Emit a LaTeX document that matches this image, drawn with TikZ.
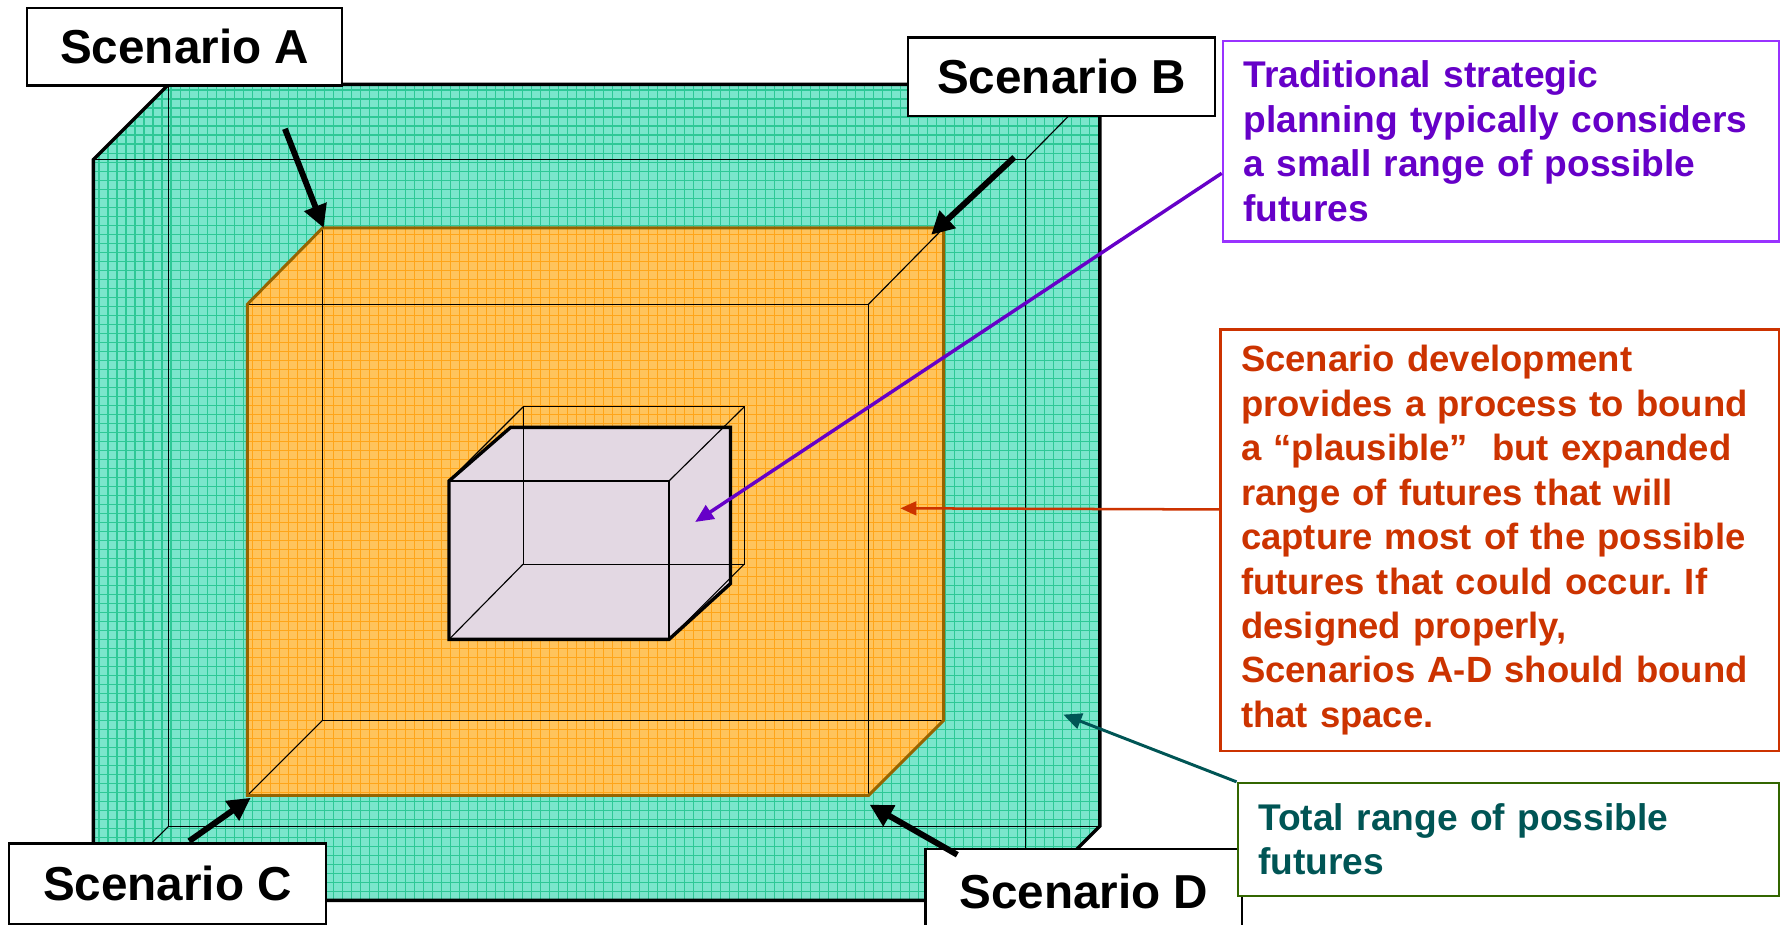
\documentclass[tikz,border=0pt]{standalone}
\usepackage{fontspec}
\setmainfont{Liberation Sans}
\usetikzlibrary{arrows.meta}
\frenchspacing
\definecolor{mint}{RGB}{122,230,204}
\definecolor{mintgrid}{RGB}{45,200,150}
\definecolor{orng}{RGB}{255,196,92}
\definecolor{orngrid}{RGB}{255,165,25}
\definecolor{lav}{RGB}{227,216,227}
\definecolor{purptext}{RGB}{102,0,200}
\definecolor{purpline}{RGB}{153,51,255}
\definecolor{redtext}{RGB}{204,51,0}
\definecolor{tealtext}{RGB}{0,85,85}
\definecolor{olivebox}{RGB}{51,102,0}
\definecolor{brownedge}{RGB}{150,100,0}
\tikzset{
  scen/.style={draw=black, line width=1pt, fill=white, minimum width=#1,
    font=\fontsize{20.9pt}{25pt}\selectfont\bfseries, inner sep=0pt},
  infobox/.style={draw, line width=1pt, fill=white, anchor=north west, align=left,
    inner xsep=9pt, inner ysep=0pt,
    font=\fontsize{16.3pt}{19.5pt}\selectfont\bfseries},
  thinedge/.style={black, line width=0.5pt},
  silhouette/.style={black, line width=1.5pt, line join=miter},
  bigarrow/.style={black, line width=2.6pt, -{Triangle[length=10pt,width=10pt]}},
}
\begin{document}
\begin{tikzpicture}[x=0.5pt,y=-0.5pt]
\useasboundingbox (0,0) rectangle (1568,811);
% ---------- outer green prism ----------
\begin{scope}
  \clip (82,140) -- (148,74) -- (965,74) -- (965,725) -- (900,790) -- (82,790) -- cycle;
  \fill[mint] (70,60) rectangle (980,800);
  \draw[mintgrid, line width=0.5pt, step=3.95pt] (82,790) grid (965,74);
\end{scope}
\draw[thinedge] (82,140) -- (900,140) -- (900,790);
\draw[thinedge] (148,74) -- (148,725) -- (965,725);
\draw[thinedge] (82,790) -- (148,725);
\draw[thinedge] (900,140) -- (965,74);
\draw[silhouette] (82,140) -- (148,74) -- (965,74) -- (965,725) -- (900,790) -- (82,790) -- cycle;
% ---------- orange prism ----------
\begin{scope}
  \clip (217,267) -- (283,200) -- (828,200) -- (828,632) -- (762,698) -- (217,698) -- cycle;
  \fill[orng] (200,190) rectangle (840,710);
  \draw[orngrid, line width=0.5pt, step=3.95pt] (217,698) grid (828,200);
\end{scope}
\draw[thinedge] (217,267) -- (762,267) -- (762,698);
\draw[thinedge] (283,200) -- (283,632) -- (828,632);
\draw[thinedge] (217,698) -- (283,632);
\draw[thinedge] (762,267) -- (828,200);
\draw[brownedge, line width=1.3pt] (217,267) -- (283,200) -- (828,200) -- (828,632) -- (762,698) -- (217,698) -- cycle;
% ---------- inner lavender prism ----------
\fill[lav] (394,422) -- (448,375) -- (641,375) -- (641,512) -- (587,561) -- (394,561) -- cycle;
\draw[thinedge] (394,422) -- (587,422) -- (587,561);
\draw[thinedge] (459,357) rectangle (653,495);
\draw[thinedge] (394,422) -- (459,357);
\draw[thinedge] (587,422) -- (653,357);
\draw[thinedge] (394,561) -- (459,495);
\draw[thinedge] (587,561) -- (653,495);
\draw[silhouette] (394,422) -- (448,375) -- (641,375) -- (641,512) -- (587,561) -- (394,561) -- cycle;
% ---------- corner coordinates ----------
\coordinate (cornA) at (284,200);
\coordinate (cornB) at (817,206);
\coordinate (cornC) at (220,700);
\coordinate (cornD) at (763,706);
\coordinate (tailA) at (250,113);
\coordinate (tailB) at (890,138);
\coordinate (tailC) at (166,738);
\coordinate (tailD) at (840,750);
\coordinate (tipP) at (610,458);
\coordinate (tipR) at (790,446);
\coordinate (tipG) at (933,627);
% ---------- scenario labels ----------
\node[scen=138pt, minimum height=34pt] (sA) at (162,41) {Scenario A};
\node[scen=134.5pt, minimum height=34.5pt] (sB) at (931.5,67.5) {Scenario B};
\node[scen=139pt, minimum height=35.5pt] (sC) at (147,775.5) {Scenario C};
\node[scen=139pt, minimum height=37.5pt] (sD) at (951,782.5) {Scenario D};
% ---------- scenario arrows ----------
\draw[bigarrow] (tailA) -- (cornA);
\draw[bigarrow] (tailB) -- (cornB);
\draw[bigarrow] (tailC) -- (cornC);
\draw[bigarrow] (tailD) -- (cornD);
% ---------- info boxes ----------
\node[infobox, draw=purpline, text=purptext, text width=226pt, minimum height=88pt] (pbox) at (1072,35)
  {Traditional strategic\\planning typically considers\\a small range of possible\\futures};
\node[infobox, draw=redtext, text=redtext, text width=227pt, minimum height=185pt,
  font=\fontsize{16.0pt}{19.5pt}\selectfont\bfseries] (rbox) at (1070,288)
  {Scenario development\\provides a process to bound\\a \textquotedblleft plausible\textquotedblright\ \ but expanded\\range of futures that will\\capture most of the possible\\futures that could occur. If\\designed properly,\\Scenarios A-D should bound\\that space.};
\node[infobox, draw=olivebox, text=tealtext, text width=219.5pt, minimum height=49.5pt] (gbox) at (1085,686)
  {Total range of possible\\futures};
% ---------- callout arrows ----------
\coordinate (pstart) at (pbox.west |- 0,152);
\coordinate (rstart) at (rbox.west |- 0,447);
\draw[purptext, line width=1.5pt, -{Triangle[length=8pt,width=7pt]}] (pstart) -- (tipP);
\draw[redtext, line width=1.1pt, -{Triangle[length=7pt,width=6pt]}] (rstart) -- (tipR);
\draw[tealtext, line width=1.3pt, -{Triangle[length=8pt,width=7pt]}] (gbox.north west) -- (tipG);
\end{tikzpicture}
\end{document}
